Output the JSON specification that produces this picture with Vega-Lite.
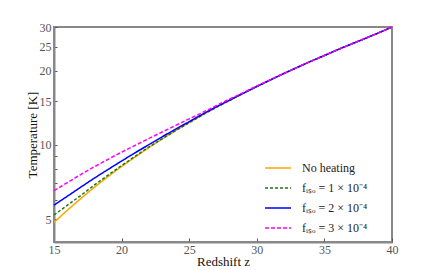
{
  "$schema": "https://vega.github.io/schema/vega-lite/v6.json",
  "width": 338,
  "height": 215,
  "autosize": {"type": "none"},
  "padding": {"left": 54, "top": 27, "right": 44, "bottom": 28},
  "background": "white",
  "config": {
    "font": "Liberation Serif",
    "view": {"stroke": "#888888", "strokeWidth": 2},
    "axis": {"grid": false, "labelFlush": false, "domainColor": "#888888", "domainWidth": 2, "tickColor": "#555555", "labelColor": "#555555", "labelFont": "Liberation Serif", "labelFontSize": 12, "titleFont": "Liberation Serif", "titleFontSize": 13, "titleFontWeight": "normal", "titleColor": "#111111"}
  },
  "data": {"values": [
    {"z": 15, "T": 4.86, "s": "No heating"}, {"z": 16, "T": 5.45, "s": "No heating"}, {"z": 17, "T": 6.08, "s": "No heating"}, {"z": 18, "T": 6.75, "s": "No heating"}, {"z": 19, "T": 7.45, "s": "No heating"}, {"z": 20, "T": 8.18, "s": "No heating"}, {"z": 21, "T": 8.94, "s": "No heating"}, {"z": 22, "T": 9.74, "s": "No heating"}, {"z": 23, "T": 10.57, "s": "No heating"}, {"z": 24, "T": 11.43, "s": "No heating"}, {"z": 25, "T": 12.32, "s": "No heating"}, {"z": 26, "T": 13.24, "s": "No heating"}, {"z": 27, "T": 14.19, "s": "No heating"}, {"z": 28, "T": 15.16, "s": "No heating"}, {"z": 29, "T": 16.18, "s": "No heating"}, {"z": 30, "T": 17.23, "s": "No heating"}, {"z": 31, "T": 18.32, "s": "No heating"}, {"z": 32, "T": 19.45, "s": "No heating"}, {"z": 33, "T": 20.6, "s": "No heating"}, {"z": 34, "T": 21.8, "s": "No heating"}, {"z": 35, "T": 23.0, "s": "No heating"}, {"z": 36, "T": 24.3, "s": "No heating"}, {"z": 37, "T": 25.6, "s": "No heating"}, {"z": 38, "T": 26.95, "s": "No heating"}, {"z": 39, "T": 28.4, "s": "No heating"}, {"z": 40, "T": 30.0, "s": "No heating"},

    {"z": 15, "T": 5.21, "s": "fᵢₛₒ = 1 × 10⁻⁴"}, {"z": 16, "T": 5.71, "s": "fᵢₛₒ = 1 × 10⁻⁴"}, {"z": 17, "T": 6.26, "s": "fᵢₛₒ = 1 × 10⁻⁴"}, {"z": 18, "T": 6.89, "s": "fᵢₛₒ = 1 × 10⁻⁴"}, {"z": 19, "T": 7.55, "s": "fᵢₛₒ = 1 × 10⁻⁴"}, {"z": 20, "T": 8.25, "s": "fᵢₛₒ = 1 × 10⁻⁴"}, {"z": 21, "T": 9.0, "s": "fᵢₛₒ = 1 × 10⁻⁴"}, {"z": 22, "T": 9.79, "s": "fᵢₛₒ = 1 × 10⁻⁴"}, {"z": 23, "T": 10.59, "s": "fᵢₛₒ = 1 × 10⁻⁴"}, {"z": 24, "T": 11.43, "s": "fᵢₛₒ = 1 × 10⁻⁴"}, {"z": 25, "T": 12.32, "s": "fᵢₛₒ = 1 × 10⁻⁴"}, {"z": 26, "T": 13.24, "s": "fᵢₛₒ = 1 × 10⁻⁴"}, {"z": 27, "T": 14.19, "s": "fᵢₛₒ = 1 × 10⁻⁴"}, {"z": 28, "T": 15.16, "s": "fᵢₛₒ = 1 × 10⁻⁴"}, {"z": 29, "T": 16.18, "s": "fᵢₛₒ = 1 × 10⁻⁴"}, {"z": 30, "T": 17.23, "s": "fᵢₛₒ = 1 × 10⁻⁴"}, {"z": 31, "T": 18.32, "s": "fᵢₛₒ = 1 × 10⁻⁴"}, {"z": 32, "T": 19.45, "s": "fᵢₛₒ = 1 × 10⁻⁴"}, {"z": 33, "T": 20.6, "s": "fᵢₛₒ = 1 × 10⁻⁴"}, {"z": 34, "T": 21.8, "s": "fᵢₛₒ = 1 × 10⁻⁴"}, {"z": 35, "T": 23.0, "s": "fᵢₛₒ = 1 × 10⁻⁴"}, {"z": 36, "T": 24.3, "s": "fᵢₛₒ = 1 × 10⁻⁴"}, {"z": 37, "T": 25.6, "s": "fᵢₛₒ = 1 × 10⁻⁴"}, {"z": 38, "T": 26.95, "s": "fᵢₛₒ = 1 × 10⁻⁴"}, {"z": 39, "T": 28.4, "s": "fᵢₛₒ = 1 × 10⁻⁴"}, {"z": 40, "T": 30.0, "s": "fᵢₛₒ = 1 × 10⁻⁴"},

    {"z": 15, "T": 5.71, "s": "fᵢₛₒ = 2 × 10⁻⁴"}, {"z": 16, "T": 6.21, "s": "fᵢₛₒ = 2 × 10⁻⁴"}, {"z": 17, "T": 6.76, "s": "fᵢₛₒ = 2 × 10⁻⁴"}, {"z": 18, "T": 7.35, "s": "fᵢₛₒ = 2 × 10⁻⁴"}, {"z": 19, "T": 7.96, "s": "fᵢₛₒ = 2 × 10⁻⁴"}, {"z": 20, "T": 8.61, "s": "fᵢₛₒ = 2 × 10⁻⁴"}, {"z": 21, "T": 9.3, "s": "fᵢₛₒ = 2 × 10⁻⁴"}, {"z": 22, "T": 10.01, "s": "fᵢₛₒ = 2 × 10⁻⁴"}, {"z": 23, "T": 10.79, "s": "fᵢₛₒ = 2 × 10⁻⁴"}, {"z": 24, "T": 11.59, "s": "fᵢₛₒ = 2 × 10⁻⁴"}, {"z": 25, "T": 12.43, "s": "fᵢₛₒ = 2 × 10⁻⁴"}, {"z": 26, "T": 13.33, "s": "fᵢₛₒ = 2 × 10⁻⁴"}, {"z": 27, "T": 14.26, "s": "fᵢₛₒ = 2 × 10⁻⁴"}, {"z": 28, "T": 15.19, "s": "fᵢₛₒ = 2 × 10⁻⁴"}, {"z": 29, "T": 16.18, "s": "fᵢₛₒ = 2 × 10⁻⁴"}, {"z": 30, "T": 17.23, "s": "fᵢₛₒ = 2 × 10⁻⁴"}, {"z": 31, "T": 18.32, "s": "fᵢₛₒ = 2 × 10⁻⁴"}, {"z": 32, "T": 19.45, "s": "fᵢₛₒ = 2 × 10⁻⁴"}, {"z": 33, "T": 20.6, "s": "fᵢₛₒ = 2 × 10⁻⁴"}, {"z": 34, "T": 21.8, "s": "fᵢₛₒ = 2 × 10⁻⁴"}, {"z": 35, "T": 23.0, "s": "fᵢₛₒ = 2 × 10⁻⁴"}, {"z": 36, "T": 24.3, "s": "fᵢₛₒ = 2 × 10⁻⁴"}, {"z": 37, "T": 25.6, "s": "fᵢₛₒ = 2 × 10⁻⁴"}, {"z": 38, "T": 26.95, "s": "fᵢₛₒ = 2 × 10⁻⁴"}, {"z": 39, "T": 28.4, "s": "fᵢₛₒ = 2 × 10⁻⁴"}, {"z": 40, "T": 30.0, "s": "fᵢₛₒ = 2 × 10⁻⁴"},

    {"z": 15, "T": 6.53, "s": "fᵢₛₒ = 3 × 10⁻⁴"}, {"z": 16, "T": 7.05, "s": "fᵢₛₒ = 3 × 10⁻⁴"}, {"z": 17, "T": 7.6, "s": "fᵢₛₒ = 3 × 10⁻⁴"}, {"z": 18, "T": 8.17, "s": "fᵢₛₒ = 3 × 10⁻⁴"}, {"z": 19, "T": 8.75, "s": "fᵢₛₒ = 3 × 10⁻⁴"}, {"z": 20, "T": 9.35, "s": "fᵢₛₒ = 3 × 10⁻⁴"}, {"z": 21, "T": 9.96, "s": "fᵢₛₒ = 3 × 10⁻⁴"}, {"z": 22, "T": 10.61, "s": "fᵢₛₒ = 3 × 10⁻⁴"}, {"z": 23, "T": 11.28, "s": "fᵢₛₒ = 3 × 10⁻⁴"}, {"z": 24, "T": 12.0, "s": "fᵢₛₒ = 3 × 10⁻⁴"}, {"z": 25, "T": 12.75, "s": "fᵢₛₒ = 3 × 10⁻⁴"}, {"z": 26, "T": 13.54, "s": "fᵢₛₒ = 3 × 10⁻⁴"}, {"z": 27, "T": 14.42, "s": "fᵢₛₒ = 3 × 10⁻⁴"}, {"z": 28, "T": 15.34, "s": "fᵢₛₒ = 3 × 10⁻⁴"}, {"z": 29, "T": 16.29, "s": "fᵢₛₒ = 3 × 10⁻⁴"}, {"z": 30, "T": 17.32, "s": "fᵢₛₒ = 3 × 10⁻⁴"}, {"z": 31, "T": 18.36, "s": "fᵢₛₒ = 3 × 10⁻⁴"}, {"z": 32, "T": 19.45, "s": "fᵢₛₒ = 3 × 10⁻⁴"}, {"z": 33, "T": 20.6, "s": "fᵢₛₒ = 3 × 10⁻⁴"}, {"z": 34, "T": 21.8, "s": "fᵢₛₒ = 3 × 10⁻⁴"}, {"z": 35, "T": 23.0, "s": "fᵢₛₒ = 3 × 10⁻⁴"}, {"z": 36, "T": 24.3, "s": "fᵢₛₒ = 3 × 10⁻⁴"}, {"z": 37, "T": 25.6, "s": "fᵢₛₒ = 3 × 10⁻⁴"}, {"z": 38, "T": 26.95, "s": "fᵢₛₒ = 3 × 10⁻⁴"}, {"z": 39, "T": 28.4, "s": "fᵢₛₒ = 3 × 10⁻⁴"}, {"z": 40, "T": 30.0, "s": "fᵢₛₒ = 3 × 10⁻⁴"}
  ]},
  "mark": {"type": "line", "strokeWidth": 1.5, "interpolate": "monotone"},
  "encoding": {
    "x": {"field": "z", "type": "quantitative", "scale": {"domain": [15, 40], "nice": false},
      "axis": {"title": "Redshift z", "values": [15, 20, 25, 30, 35, 40], "tickSize": -4, "labelPadding": 6, "titlePadding": 0, "format": "d"}},
    "y": {"field": "T", "type": "quantitative", "scale": {"type": "log", "domain": [4.05, 30], "nice": false},
      "axis": {"title": "Temperature [K]", "values": [5, 6, 7, 8, 9, 10, 15, 20, 25, 30], "tickSize": -3, "labelPadding": 6, "titlePadding": 0,
        "labelExpr": "indexof([5,10,15,20,25,30], datum.value) >= 0 ? format(datum.value, 'd') : ''"}},
    "color": {"field": "s", "type": "nominal", "sort": null,
      "scale": {"domain": ["No heating", "fᵢₛₒ = 1 × 10⁻⁴", "fᵢₛₒ = 2 × 10⁻⁴", "fᵢₛₒ = 3 × 10⁻⁴"], "range": ["#FFA500", "#1a7a1a", "#0000FF", "#FF00FF"]},
      "legend": {"title": null, "orient": "none", "legendX": 210, "legendY": 127, "symbolType": "stroke", "symbolSize": 676, "symbolStrokeWidth": 1.5, "labelFontSize": 12, "labelColor": "#222222", "labelFont": "Liberation Serif", "rowPadding": -2, "labelOffset": 10}},
    "strokeDash": {"field": "s", "type": "nominal", "sort": null,
      "scale": {"domain": ["No heating", "fᵢₛₒ = 1 × 10⁻⁴", "fᵢₛₒ = 2 × 10⁻⁴", "fᵢₛₒ = 3 × 10⁻⁴"], "range": [[1, 0], [3, 2], [1, 0], [4, 2]]},
      "legend": {"title": null, "orient": "none", "legendX": 210, "legendY": 127, "symbolType": "stroke", "symbolSize": 676, "symbolStrokeWidth": 1.5, "labelFontSize": 12, "labelColor": "#222222", "labelFont": "Liberation Serif", "rowPadding": -2, "labelOffset": 10}}
  }
}
